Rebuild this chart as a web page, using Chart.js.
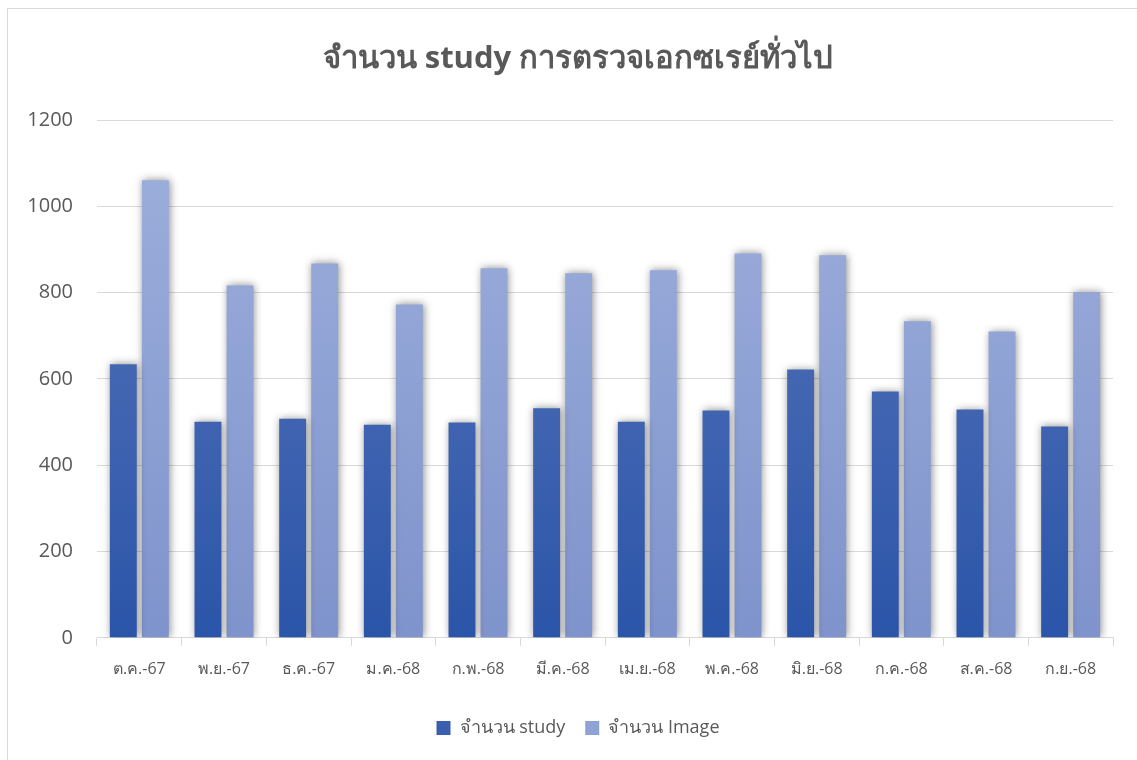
<!DOCTYPE html>
<html>
<head>
<meta charset="utf-8">
<script src="https://cdn.jsdelivr.net/npm/chart.js@4.4.1/dist/chart.umd.min.js"></script>
<style>
html,body{margin:0;padding:0;background:#fff;}
#wrap{position:absolute;left:0;top:0;width:1137px;height:760px;}
</style>
</head>
<body>
<div id="wrap"><canvas id="c" width="1137" height="760"></canvas></div>
<script>
const categories = ['ต.ค.-67','พ.ย.-67','ธ.ค.-67','ม.ค.-68','ก.พ.-68','มี.ค.-68','เม.ย.-68','พ.ค.-68','มิ.ย.-68','ก.ค.-68','ส.ค.-68','ก.ย.-68'];
const studyValues = [634, 501, 508, 494, 499, 532, 501, 527, 622, 571, 529, 490];
const imageValues = [1061, 817, 868, 773, 857, 845, 852, 891, 887, 734, 710, 801];
const seriesNames = ['จำนวน study', 'จำนวน Image'];
const titleText = 'จำนวน study การตรวจเอกซเรย์ทั่วไป';

const FONT = "'Open Sans', 'Noto Sans', sans-serif";

function grad(top, bottom, solid) {
  return function(ctx) {
    const chart = ctx.chart;
    const a = chart.chartArea;
    if (!a) return solid;
    const g = chart.ctx.createLinearGradient(0, a.top, 0, a.bottom);
    g.addColorStop(0, top);
    g.addColorStop(1, bottom);
    return g;
  };
}

const frame = {
  id: 'frame',
  afterLayout(chart) {
    // centre the title and legend on the outer frame, as in the reference
    const shift = 35;
    if (chart.titleBlock) { chart.titleBlock.left += shift; }
    if (chart.legend) { chart.legend.left += shift; }
  },
  beforeDraw(chart) {
    const c = chart.ctx;
    c.save();
    c.fillStyle = '#fff';
    c.fillRect(0, 0, chart.width, chart.height);
    c.strokeStyle = '#d9d9d9';
    c.lineWidth = 1;
    c.strokeRect(7.5, 8.5, 1200, 800);
    c.restore();
  },
  beforeDatasetsDraw(chart) {
    const c = chart.ctx;
    c.save();
    c.shadowColor = 'rgba(0,0,0,0.45)';
    c.shadowBlur = 8;
    c.shadowOffsetX = 1;
    c.shadowOffsetY = 0;
  },
  afterDatasetsDraw(chart) {
    chart.ctx.restore();
  }
};

new Chart(document.getElementById('c'), {
  type: 'bar',
  data: {
    labels: categories,
    datasets: [
      {
        label: seriesNames[0],
        data: studyValues,
        backgroundColor: grad('#5b77ba', '#2b55a9', '#3a5fae'),
        borderWidth: 0,
        categoryPercentage: 0.757,
        barPercentage: 0.84
      },
      {
        label: seriesNames[1],
        data: imageValues,
        backgroundColor: grad('#9eb0dc', '#7f93cc', '#8fa2d4'),
        borderWidth: 0,
        categoryPercentage: 0.757,
        barPercentage: 0.84
      }
    ]
  },
  options: {
    responsive: false,
    animation: false,
    layout: { padding: { left: 8, right: 24, top: 22, bottom: 13 } },
    plugins: {
      title: {
        display: true,
        text: titleText,
        color: '#595959',
        font: { family: FONT, size: 31, weight: 'bold' },
        padding: { top: 19, bottom: 42 }
      },
      legend: {
        position: 'bottom',
        labels: {
          color: '#595959',
          font: { family: FONT, size: 18 },
          boxWidth: 14,
          boxHeight: 14,
          padding: 20,
          generateLabels(chart) {
            const cols = ['#3a5fae', '#8fa2d4'];
            return chart.data.datasets.map((d, i) => ({
              text: d.label, fillStyle: cols[i], strokeStyle: cols[i], lineWidth: 0,
              hidden: false, datasetIndex: i, fontColor: '#595959'
            }));
          }
        }
      },
      tooltip: { enabled: false }
    },
    scales: {
      x: {
        grid: { display: true, drawOnChartArea: false, color: '#d9d9d9', tickLength: 8, offset: true },
        border: { display: true, color: '#d9d9d9', width: 1 },
        ticks: { color: '#595959', font: { family: FONT, size: 16 }, padding: 14, maxRotation: 0, autoSkip: false },
        afterFit(scale) { scale.height += 6; }
      },
      y: {
        min: 0, max: 1200,
        ticks: { stepSize: 200, color: '#595959', font: { family: FONT, size: 20 }, padding: 24,
                 callback: (v) => String(v) },
        grid: { color: '#d9d9d9', lineWidth: 1, drawTicks: false },
        border: { display: false },
        afterFit(scale) { scale.width = 89; }
      }
    }
  },
  plugins: [frame]
});
</script>
</body>
</html>
